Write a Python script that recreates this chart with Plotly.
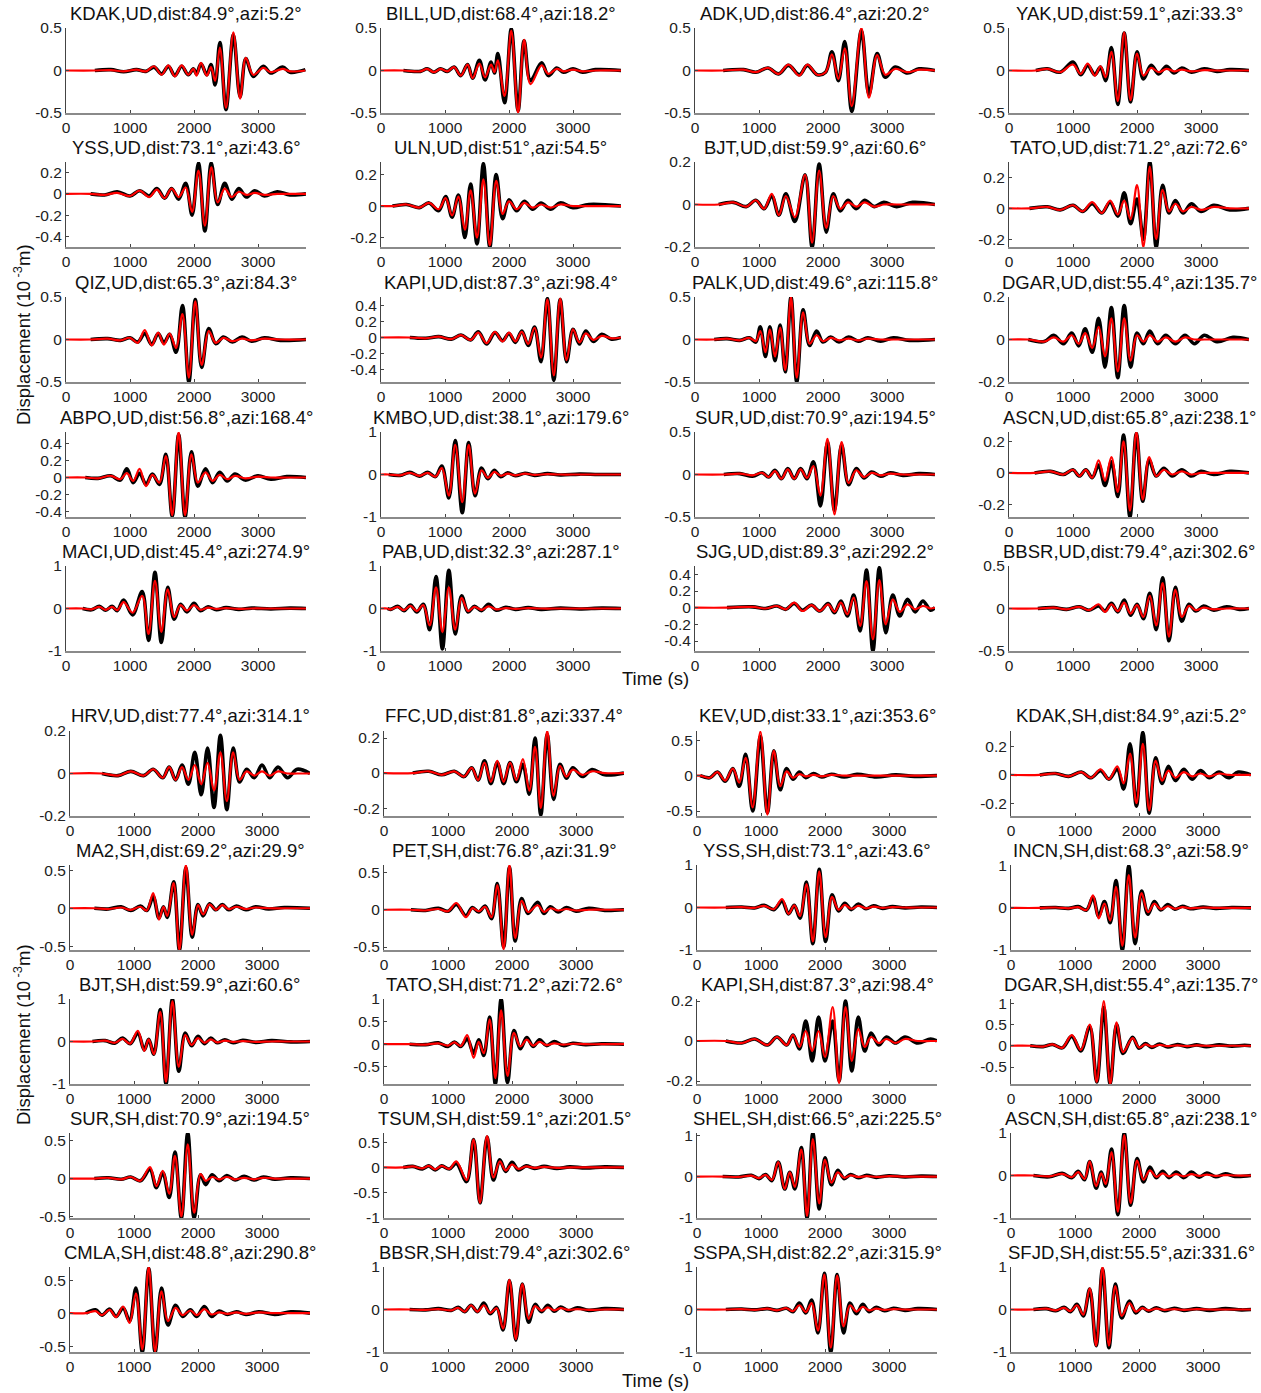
import plotly.graph_objects as go

# ---------------- data (extrema; obs = black, syn = red) ----------------
t_KDAK_UD = [0,450,700,900,1100,1250,1375,1495,1600,1700,1807,1911,1990,2040,2110,2200,2265,2330,2405,2500,2615,2720,2810,2925,3083,3200,3385,3500,3740]
obs_KDAK_UD = [None,0,0.01,-0.015,0.01,-0.01,0.04,-0.04,0.05,-0.06,0.05,-0.05,0.02,-0.04,0.08,-0.05,0.07,-0.17,0.33,-0.46,0.42,-0.31,0.14,-0.07,0.05,-0.03,0.04,-0.02,0.01]
syn_KDAK_UD = [0,0,0.005,-0.01,0.01,-0.01,0.05,-0.05,0.06,-0.07,0.06,-0.05,0.02,-0.06,0.09,-0.06,0.04,-0.12,0.27,-0.44,0.45,-0.33,0.15,-0.05,0.03,-0.02,0.02,-0.01,0.0]

t_BILL_UD = [0,350,615,720,826,930,1036,1142,1247,1352,1431,1537,1626,1720,1773,1826,1931,2036,2142,2236,2336,2510,2615,2747,2850,3000,3150,3350,3760]
obs_BILL_UD = [None,0,-0.01,0.02,-0.02,0.02,-0.01,0.04,-0.06,0.07,-0.09,0.12,-0.11,0.1,-0.03,0.2,-0.38,0.49,-0.47,0.35,-0.12,0.09,-0.06,0.03,-0.02,0.02,-0.02,0.01,0]
syn_BILL_UD = [0,0,-0.01,0.02,-0.02,0.02,-0.01,0.04,-0.06,0.07,-0.09,0.08,-0.08,0.07,-0.02,0.12,-0.3,0.47,-0.5,0.36,-0.16,0.06,-0.04,0.02,-0.01,0.01,-0.01,0.0,0]

t_ADK_UD = [0,440,760,950,1140,1307,1460,1630,1756,1910,2040,2140,2240,2340,2450,2600,2718,2846,2974,3128,3320,3500,3750]
obs_ADK_UD = [None,0,0.01,-0.02,0.03,-0.04,0.06,-0.05,0.06,-0.05,-0.02,0.22,-0.12,0.34,-0.48,0.47,-0.28,0.2,-0.08,0.04,-0.03,0.02,0]
syn_ADK_UD = [0,0,0.01,-0.02,0.03,-0.04,0.07,-0.06,0.07,-0.05,-0.02,0.19,-0.1,0.26,-0.42,0.5,-0.32,0.18,-0.05,0.02,-0.02,0.01,0]

t_YAK_UD = [0,420,600,800,1000,1120,1230,1340,1430,1510,1600,1700,1800,1900,2000,2100,2220,2340,2460,2580,2700,2850,3050,3250,3450,3750]
obs_YAK_UD = [None,0,0.02,-0.02,0.1,-0.05,0.06,-0.05,0.04,-0.12,0.27,-0.4,0.44,-0.37,0.22,-0.1,0.06,-0.04,0.05,-0.03,0.03,-0.02,0.02,-0.01,0.01,0]
syn_YAK_UD = [0,0,0.02,-0.02,0.07,-0.04,0.08,-0.06,0.05,-0.08,0.22,-0.36,0.45,-0.35,0.2,-0.06,0.03,-0.02,0.02,-0.01,0.01,-0.01,0.005,0,0,0]

t_YSS_UD = [0,385,600,800,1000,1150,1300,1420,1540,1650,1760,1870,1970,2070,2170,2270,2370,2480,2590,2700,2820,2950,3100,3300,3500,3750]
obs_YSS_UD = [None,0,-0.01,0.02,-0.02,0.03,-0.02,0.05,-0.04,0.05,-0.05,0.1,-0.2,0.29,-0.35,0.29,-0.1,0.1,-0.05,0.05,-0.03,0.03,-0.02,0.02,-0.01,0]
syn_YSS_UD = [0,0,-0.01,0.01,-0.02,0.03,-0.03,0.04,-0.04,0.05,-0.03,0.06,-0.17,0.22,-0.3,0.25,-0.08,0.05,-0.03,0.02,-0.01,0.01,-0.01,0.0,0,0]

t_ULN_UD = [0,180,400,600,750,900,1010,1110,1210,1310,1400,1500,1600,1700,1800,1900,2000,2120,2240,2370,2500,2650,2800,3000,3250,3750]
obs_ULN_UD = [None,0,0.01,-0.01,0.02,-0.03,0.06,-0.07,0.07,-0.2,0.14,-0.24,0.27,-0.26,0.2,-0.08,0.04,-0.03,0.03,-0.02,0.02,-0.02,0.02,-0.01,0.01,0]
syn_ULN_UD = [0,0,0.01,-0.01,0.02,-0.02,0.05,-0.06,0.06,-0.15,0.1,-0.2,0.17,-0.25,0.16,-0.05,0.03,-0.02,0.02,-0.01,0.01,-0.01,0.01,0,0,0]

t_BJT_UD = [0,370,600,800,950,1080,1200,1310,1420,1560,1720,1830,1940,2050,2160,2270,2390,2520,2650,2800,2950,3150,3400,3750]
obs_BJT_UD = [None,0,0.01,-0.01,0.02,-0.02,0.04,-0.05,0.05,-0.08,0.14,-0.2,0.19,-0.13,0.05,-0.03,0.02,-0.02,0.02,-0.01,0.01,-0.01,0.01,0]
syn_BJT_UD = [0,0,0.01,-0.01,0.02,-0.02,0.05,-0.05,0.04,-0.06,0.14,-0.18,0.16,-0.11,0.04,-0.02,0.01,-0.01,0.01,-0.01,0.0,0,0,0]

t_TATO_UD = [0,320,600,800,1000,1150,1300,1450,1580,1700,1800,1900,2000,2100,2200,2300,2400,2500,2600,2720,2850,3000,3200,3450,3750]
obs_TATO_UD = [None,0,0.01,-0.01,0.02,-0.02,0.03,-0.03,0.04,-0.05,0.1,-0.1,0.06,-0.2,0.3,-0.25,0.15,-0.03,0.05,-0.03,0.03,-0.02,0.02,-0.01,0]
syn_TATO_UD = [0,0,0.01,-0.01,0.02,-0.02,0.04,-0.03,0.05,-0.04,0.05,-0.07,0.15,-0.25,0.27,-0.2,0.12,-0.02,0.03,-0.02,0.01,-0.01,0.01,0,0]

t_QIZ_UD = [0,385,650,850,1000,1120,1230,1340,1440,1530,1620,1720,1820,1920,2020,2120,2230,2340,2460,2600,2750,2900,3100,3350,3750]
obs_QIZ_UD = [None,0,0.01,-0.01,0.02,-0.03,0.07,-0.06,0.07,-0.04,0.06,-0.15,0.4,-0.5,0.47,-0.33,0.13,-0.05,0.03,-0.03,0.03,-0.02,0.02,-0.01,0]
syn_QIZ_UD = [0,0,0.01,-0.01,0.02,-0.04,0.11,-0.07,0.08,-0.06,0.07,-0.1,0.3,-0.45,0.45,-0.3,0.1,-0.04,0.02,-0.02,0.01,-0.01,0.01,0,0]

t_KAPI_UD = [0,450,700,900,1100,1250,1400,1520,1650,1780,1900,2000,2100,2200,2300,2400,2500,2600,2700,2800,2900,3000,3100,3200,3320,3450,3600,3750]
obs_KAPI_UD = [None,0,-0.01,0.01,-0.02,0.03,-0.03,0.07,-0.08,0.06,-0.04,0.05,-0.06,0.08,-0.1,0.13,-0.3,0.48,-0.53,0.47,-0.3,0.1,-0.08,0.08,-0.05,0.04,-0.02,0]
syn_KAPI_UD = [0,0,-0.01,0.01,-0.02,0.03,-0.03,0.06,-0.07,0.07,-0.05,0.06,-0.05,0.07,-0.08,0.12,-0.25,0.47,-0.47,0.48,-0.28,0.1,-0.06,0.05,-0.03,0.02,-0.01,0]

t_PALK_UD = [0,300,500,700,850,950,1020,1100,1170,1250,1330,1410,1500,1590,1690,1790,1900,2000,2120,2250,2400,2550,2700,2900,3100,3350,3750]
obs_PALK_UD = [None,0,0.01,-0.01,0.02,-0.03,0.15,-0.2,0.15,-0.25,0.17,-0.38,0.5,-0.5,0.35,-0.07,0.1,-0.03,0.03,-0.03,0.03,-0.02,0.02,-0.02,0.02,-0.01,0]
syn_PALK_UD = [0,0,0.01,-0.01,0.02,-0.02,0.1,-0.15,0.12,-0.2,0.14,-0.36,0.5,-0.45,0.32,-0.05,0.05,-0.02,0.02,-0.01,0.01,-0.01,0.01,0,0,0,0]

t_DGAR_UD = [0,300,550,700,850,980,1090,1190,1300,1400,1500,1600,1700,1800,1900,2000,2100,2200,2320,2450,2600,2750,2900,3050,3250,3500,3750]
obs_DGAR_UD = [None,0,-0.01,0.02,-0.02,0.03,-0.03,0.05,-0.06,0.1,-0.13,0.15,-0.18,0.16,-0.13,0.03,-0.02,0.04,-0.02,0.02,-0.02,0.02,-0.02,0.02,-0.01,0.01,0]
syn_DGAR_UD = [0,0,-0.01,0.01,-0.01,0.02,-0.02,0.03,-0.04,0.06,-0.08,0.1,-0.15,0.1,-0.1,0.02,-0.01,0.02,-0.01,0.01,-0.01,0.01,0,0,0,0,0]

t_ABPO_UD = [0,300,500,700,850,950,1050,1150,1250,1350,1460,1560,1660,1760,1860,1960,2060,2180,2290,2400,2520,2640,2800,3000,3200,3450,3750]
obs_ABPO_UD = [None,0,-0.01,0.02,-0.03,0.1,-0.06,0.05,-0.08,0.04,-0.08,0.27,-0.45,0.5,-0.46,0.3,-0.1,0.1,-0.06,0.06,-0.04,0.04,-0.03,0.02,-0.02,0.01,0]
syn_ABPO_UD = [0,0,-0.01,0.02,-0.02,0.05,-0.04,0.1,-0.1,0.03,-0.06,0.25,-0.44,0.53,-0.44,0.27,-0.06,0.06,-0.04,0.03,-0.02,0.02,-0.01,0.01,0,0,0]

t_KMBO_UD = [0,120,300,450,600,730,850,950,1060,1160,1270,1370,1470,1570,1670,1770,1870,1980,2100,2250,2400,2600,2800,3100,3400,3750]
obs_KMBO_UD = [None,0,-0.02,0.05,-0.04,0.05,-0.05,0.2,-0.55,0.8,-0.9,0.75,-0.5,0.15,-0.1,0.1,-0.05,0.04,-0.03,0.03,-0.02,0.02,-0.01,0.01,0.0,0]
syn_KMBO_UD = [0,0,-0.02,0.04,-0.03,0.04,-0.05,0.15,-0.5,0.7,-0.65,0.7,-0.45,0.1,-0.08,0.06,-0.03,0.02,-0.02,0.02,-0.01,0.01,0,0,0,0]

t_SUR_UD = [0,450,700,900,1050,1150,1250,1350,1450,1550,1650,1750,1850,1960,2070,2180,2290,2400,2520,2640,2760,2900,3050,3250,3500,3750]
obs_SUR_UD = [None,0,0.01,-0.02,0.02,-0.03,0.05,-0.05,0.07,-0.05,0.07,-0.05,0.15,-0.37,0.38,-0.42,0.35,-0.12,0.07,-0.04,0.03,-0.02,0.02,-0.01,0.01,0]
syn_SUR_UD = [0,0,0.01,-0.01,0.02,-0.03,0.04,-0.05,0.06,-0.05,0.06,-0.04,0.1,-0.25,0.42,-0.47,0.38,-0.1,0.05,-0.03,0.02,-0.01,0.01,0,0,0]

t_ASCN_UD = [0,400,650,850,1000,1100,1200,1300,1400,1500,1600,1700,1790,1890,1990,2090,2190,2300,2420,2550,2700,2850,3000,3200,3450,3750]
obs_ASCN_UD = [None,0,0.01,-0.01,0.02,-0.02,0.02,-0.03,0.05,-0.08,0.07,-0.15,0.24,-0.28,0.25,-0.18,0.08,-0.02,0.03,-0.02,0.02,-0.02,0.01,-0.01,0.01,0]
syn_ASCN_UD = [0,0,0.01,-0.01,0.02,-0.02,0.02,-0.03,0.08,-0.05,0.1,-0.12,0.2,-0.24,0.26,-0.17,0.1,-0.02,0.02,-0.01,0.01,-0.01,0,0,0,0]

t_MACI_UD = [0,260,400,520,620,720,800,900,1040,1190,1290,1390,1490,1590,1690,1790,1890,2000,2100,2220,2350,2500,2700,2900,3200,3500,3750]
obs_MACI_UD = [None,0,-0.03,0.05,-0.04,0.05,-0.05,0.2,-0.15,0.4,-0.75,0.85,-0.8,0.5,-0.25,0.1,-0.08,0.12,-0.05,0.04,-0.03,0.02,-0.02,0.01,-0.01,0.01,0]
syn_MACI_UD = [0,0,-0.02,0.04,-0.03,0.04,-0.04,0.15,-0.1,0.3,-0.6,0.65,-0.55,0.45,-0.2,0.08,-0.05,0.08,-0.03,0.02,-0.01,0.01,-0.01,0,0,0,0]

t_PAB_UD = [0,100,150,260,360,460,560,660,760,860,960,1060,1160,1260,1360,1460,1570,1680,1800,1950,2100,2300,2500,2800,3100,3450,3750]
obs_PAB_UD = [None,0,-0.02,0.05,-0.05,0.08,-0.08,0.1,-0.5,0.75,-0.95,0.9,-0.6,0.3,-0.08,0.05,-0.05,0.1,-0.04,0.03,-0.02,0.02,-0.02,0.01,-0.01,0.01,0]
syn_PAB_UD = [0,0,-0.02,0.04,-0.04,0.06,-0.06,0.08,-0.4,0.5,-0.55,0.5,-0.5,0.25,-0.06,0.04,-0.03,0.05,-0.02,0.01,-0.01,0.01,0,0,0,0,0]

t_SJG_UD = [0,500,900,1100,1280,1420,1550,1680,1820,1950,2080,2180,2280,2380,2480,2580,2680,2780,2880,2980,3090,3200,3320,3440,3560,3680,3750]
obs_SJG_UD = [None,0,0.01,-0.01,0.02,-0.02,0.05,-0.03,0.03,-0.04,0.05,-0.06,0.08,-0.1,0.15,-0.28,0.45,-0.52,0.48,-0.3,0.15,-0.1,0.1,-0.05,0.08,-0.03,0]
syn_SJG_UD = [0,0,0.01,-0.01,0.02,-0.02,0.06,-0.04,0.03,-0.04,0.04,-0.05,0.06,-0.08,0.12,-0.22,0.32,-0.38,0.33,-0.2,0.1,-0.05,0.04,-0.02,0.02,-0.01,0]

t_BBSR_UD = [0,450,700,900,1100,1250,1400,1500,1600,1700,1800,1900,2000,2100,2200,2300,2400,2500,2600,2700,2810,2920,3040,3200,3400,3600,3750]
obs_BBSR_UD = [None,0,0.01,-0.01,0.02,-0.02,0.03,-0.03,0.06,-0.04,0.1,-0.08,0.05,-0.12,0.18,-0.25,0.36,-0.38,0.25,-0.15,0.05,-0.03,0.03,-0.02,0.02,-0.01,0]
syn_BBSR_UD = [0,0,0.01,-0.01,0.02,-0.02,0.05,-0.04,0.05,-0.03,0.07,-0.06,0.04,-0.1,0.15,-0.2,0.3,-0.33,0.22,-0.1,0.03,-0.02,0.01,-0.01,0,0,0]

t_HRV_UD = [0,500,750,950,1150,1300,1450,1550,1650,1750,1850,1950,2050,2150,2250,2350,2450,2550,2650,2760,2880,3000,3120,3250,3400,3550,3750]
obs_HRV_UD = [None,0,-0.01,0.01,-0.01,0.02,-0.02,0.03,-0.03,0.04,-0.05,0.1,-0.1,0.12,-0.16,0.18,-0.17,0.12,-0.04,0.02,-0.02,0.04,-0.02,0.03,-0.02,0.02,0]
syn_HRV_UD = [0,0,-0.01,0.01,-0.01,0.02,-0.02,0.03,-0.03,0.03,-0.03,0.04,-0.05,0.05,-0.08,0.1,-0.13,0.1,-0.03,0.01,-0.01,0.01,-0.01,0.01,0,0,0]

t_FFC_UD = [0,450,700,900,1100,1250,1370,1470,1570,1670,1770,1870,1970,2070,2170,2270,2360,2450,2550,2650,2750,2850,2950,3100,3250,3450,3750]
obs_FFC_UD = [None,0,0.01,-0.01,0.01,-0.02,0.03,-0.04,0.07,-0.06,0.06,-0.06,0.06,-0.05,0.05,-0.12,0.2,-0.24,0.22,-0.15,0.05,-0.03,0.03,-0.02,0.02,-0.01,0]
syn_FFC_UD = [0,0,0.01,-0.01,0.01,-0.02,0.03,-0.04,0.06,-0.05,0.07,-0.05,0.06,-0.04,0.08,-0.1,0.15,-0.2,0.24,-0.13,0.04,-0.02,0.02,-0.01,0.01,0,0]

t_KEV_UD = [0,50,200,320,440,560,660,760,870,990,1100,1200,1300,1400,1500,1600,1700,1820,1950,2100,2300,2500,2800,3100,3400,3750]
obs_KEV_UD = [None,0,-0.03,0.05,-0.08,0.1,-0.15,0.3,-0.5,0.55,-0.52,0.35,-0.2,0.1,-0.05,0.05,-0.03,0.03,-0.02,0.02,-0.02,0.02,-0.02,0.01,-0.01,0]
syn_KEV_UD = [0,0,-0.03,0.05,-0.07,0.1,-0.1,0.25,-0.45,0.62,-0.55,0.35,-0.15,0.06,-0.03,0.02,-0.01,0.01,-0.01,0.01,0,0,0,0,0,0]

t_KDAK_SH = [0,450,700,900,1100,1250,1400,1530,1660,1760,1860,1960,2060,2160,2260,2360,2460,2570,2700,2830,2960,3100,3250,3400,3550,3750]
obs_KDAK_SH = [None,0,0.01,-0.01,0.02,-0.02,0.03,-0.03,0.04,-0.1,0.22,-0.22,0.3,-0.27,0.12,-0.06,0.06,-0.04,0.04,-0.03,0.03,-0.02,0.02,-0.02,0.02,0]
syn_KDAK_SH = [0,0,0.01,-0.01,0.02,-0.02,0.04,-0.03,0.06,-0.06,0.15,-0.2,0.22,-0.25,0.1,-0.04,0.03,-0.02,0.02,-0.01,0.01,-0.01,0.01,0,0,0]

t_MA2_SH = [0,380,600,800,950,1100,1200,1300,1390,1460,1520,1620,1710,1810,1910,2000,2080,2180,2280,2380,2480,2600,2750,2900,3100,3350,3750]
obs_MA2_SH = [None,0,-0.01,0.02,-0.03,0.03,-0.03,0.15,-0.13,0.02,-0.12,0.35,-0.55,0.53,-0.38,0.05,-0.1,0.06,-0.02,0.05,-0.02,0.03,-0.02,0.02,-0.01,0.01,0]
syn_MA2_SH = [0,0,-0.01,0.01,-0.02,0.02,-0.03,0.2,-0.15,0.02,-0.1,0.33,-0.55,0.57,-0.35,0.04,-0.08,0.05,-0.02,0.04,-0.01,0.02,-0.01,0.01,0,0,0]

t_PET_SH = [0,420,650,850,1000,1130,1280,1380,1480,1580,1680,1770,1870,1960,2050,2150,2250,2400,2500,2600,2720,2850,3000,3200,3450,3750]
obs_PET_SH = [None,0,-0.01,0.02,-0.02,0.07,-0.08,0.03,-0.03,0.05,-0.12,0.35,-0.5,0.57,-0.42,0.15,-0.05,0.1,-0.05,0.04,-0.03,0.03,-0.02,0.02,-0.01,0]
syn_PET_SH = [0,0,-0.01,0.01,-0.02,0.09,-0.1,0.02,-0.02,0.04,-0.1,0.33,-0.53,0.6,-0.38,0.12,-0.03,0.06,-0.03,0.02,-0.01,0.01,-0.01,0,0,0]

t_YSS_SH = [0,450,700,900,1050,1200,1330,1430,1520,1610,1710,1810,1910,2010,2110,2210,2310,2410,2520,2640,2760,2900,3050,3250,3500,3750]
obs_YSS_SH = [None,0,0.01,-0.01,0.05,-0.05,0.15,-0.15,0.05,-0.25,0.6,-0.85,0.9,-0.8,0.3,-0.08,0.1,-0.05,0.08,-0.03,0.04,-0.02,0.02,-0.01,0.01,0]
syn_YSS_SH = [0,0,0.01,-0.01,0.04,-0.04,0.2,-0.15,0.05,-0.2,0.55,-0.8,0.85,-0.7,0.25,-0.05,0.06,-0.03,0.04,-0.02,0.02,-0.01,0.01,0,0,0]

t_INCN_SH = [0,450,700,900,1050,1180,1280,1370,1460,1550,1640,1740,1840,1940,2040,2140,2240,2340,2450,2560,2680,2800,3000,3200,3450,3750]
obs_INCN_SH = [None,0,0.01,-0.01,0.03,-0.05,0.25,-0.2,0.15,-0.35,0.65,-1.0,1.0,-0.85,0.4,-0.15,0.15,-0.05,0.08,-0.03,0.04,-0.02,0.02,-0.01,0.01,0]
syn_INCN_SH = [0,0,0.01,-0.01,0.02,-0.05,0.3,-0.25,0.1,-0.3,0.5,-0.9,0.78,-0.7,0.35,-0.1,0.1,-0.03,0.04,-0.02,0.02,-0.01,0.01,0,0,0]

t_BJT_SH = [0,350,550,700,820,940,1060,1160,1230,1310,1410,1500,1600,1700,1800,1900,2000,2100,2200,2300,2420,2550,2700,2900,3150,3450,3750]
obs_BJT_SH = [None,0,0.02,-0.04,0.08,-0.05,0.2,-0.2,0.05,-0.3,0.75,-1.0,1.0,-0.7,0.2,-0.1,0.12,-0.05,0.08,-0.03,0.04,-0.03,0.03,-0.02,0.02,-0.01,0]
syn_BJT_SH = [0,0,0.02,-0.03,0.06,-0.05,0.25,-0.22,0.05,-0.3,0.7,-0.95,0.95,-0.6,0.15,-0.08,0.08,-0.03,0.05,-0.02,0.02,-0.01,0.01,-0.01,0,0,0]

t_TATO_SH = [0,400,650,850,1000,1100,1200,1300,1400,1480,1560,1650,1740,1830,1930,2030,2130,2230,2330,2430,2540,2660,2800,2950,3150,3400,3750]
obs_TATO_SH = [None,0,-0.01,0.03,-0.05,0.05,-0.05,0.12,-0.2,0.1,-0.25,0.6,-0.88,1.0,-0.85,0.3,-0.1,0.15,-0.05,0.1,-0.03,0.06,-0.03,0.02,-0.01,0.01,0]
syn_TATO_SH = [0,0,-0.01,0.02,-0.03,0.04,-0.04,0.2,-0.3,0.05,-0.2,0.55,-0.75,0.75,-0.7,0.25,-0.05,0.1,-0.03,0.05,-0.02,0.02,-0.01,0.01,0,0,0]

t_KAPI_SH = [0,450,700,900,1100,1250,1400,1500,1600,1700,1800,1900,2000,2120,2220,2320,2420,2520,2620,2720,2840,2960,3100,3250,3450,3650,3750]
obs_KAPI_SH = [None,0,-0.01,0.01,-0.02,0.02,-0.02,0.03,-0.04,0.1,-0.1,0.12,-0.1,0.1,-0.2,0.2,-0.15,0.12,-0.05,0.04,-0.02,0.02,-0.01,0.02,-0.01,0.01,0]
syn_KAPI_SH = [0,0,-0.01,0.01,-0.02,0.02,-0.02,0.03,-0.03,0.05,-0.05,0.05,-0.08,0.17,-0.21,0.17,-0.1,0.06,-0.03,0.02,-0.01,0.01,-0.01,0.01,0,0,0]

t_DGAR_SH = [0,300,500,650,800,950,1090,1230,1340,1450,1550,1650,1750,1900,2000,2100,2200,2320,2450,2600,2750,2900,3050,3250,3450,3650,3750]
obs_DGAR_SH = [None,0,-0.02,0.03,-0.05,0.22,-0.12,0.45,-0.85,0.9,-0.9,0.5,-0.18,0.2,-0.06,0.05,-0.04,0.04,-0.03,0.03,-0.02,0.02,-0.02,0.02,-0.01,0.01,0]
syn_DGAR_SH = [0,0,-0.02,0.03,-0.05,0.25,-0.1,0.5,-0.85,1.05,-0.9,0.55,-0.15,0.18,-0.04,0.03,-0.02,0.02,-0.01,0.01,-0.01,0.01,0,0,0,0,0]

t_SUR_SH = [0,380,600,800,950,1100,1250,1350,1450,1550,1640,1740,1840,1940,2040,2120,2220,2330,2450,2580,2720,2870,3020,3200,3450,3750]
obs_SUR_SH = [None,0,0.01,-0.01,0.02,-0.03,0.12,-0.12,0.08,-0.25,0.35,-0.52,0.6,-0.52,0.05,-0.08,0.05,-0.03,0.04,-0.02,0.03,-0.02,0.02,-0.01,0.01,0]
syn_SUR_SH = [0,0,0.01,-0.01,0.02,-0.03,0.15,-0.1,0.1,-0.2,0.3,-0.5,0.45,-0.45,0.06,-0.03,0.02,-0.01,0.02,-0.01,0.01,-0.01,0.01,0,0,0]

t_TSUM_SH = [0,300,450,600,700,800,900,1020,1130,1290,1400,1500,1610,1710,1810,1900,2000,2100,2220,2350,2500,2700,2900,3150,3450,3750]
obs_TSUM_SH = [None,0,0.02,-0.03,0.03,-0.05,0.03,-0.03,0.08,-0.28,0.55,-0.7,0.6,-0.25,0.15,-0.08,0.1,-0.05,0.03,-0.02,0.02,-0.02,0.01,-0.01,0.01,0]
syn_TSUM_SH = [0,0,0.02,-0.02,0.03,-0.04,0.03,-0.03,0.12,-0.25,0.55,-0.7,0.62,-0.2,0.12,-0.06,0.06,-0.03,0.02,-0.01,0.01,-0.01,0,0,0,0]

t_SHEL_SH = [0,400,650,850,970,1070,1170,1270,1370,1450,1530,1630,1720,1810,1910,2000,2100,2200,2300,2400,2520,2650,2800,3000,3250,3500,3750]
obs_SHEL_SH = [None,0,-0.01,0.03,-0.05,0.05,-0.1,0.35,-0.3,0.1,-0.3,0.7,-1.0,1.05,-0.78,0.45,-0.2,0.15,-0.05,0.05,-0.03,0.03,-0.02,0.02,-0.01,0.01,0]
syn_SHEL_SH = [0,0,-0.01,0.02,-0.04,0.04,-0.08,0.35,-0.3,0.1,-0.25,0.65,-0.95,0.9,-0.65,0.4,-0.15,0.1,-0.03,0.03,-0.01,0.01,-0.01,0.01,0,0,0]

t_ASCN_SH = [0,350,600,800,950,1050,1150,1230,1330,1410,1480,1570,1670,1770,1870,1970,2070,2170,2270,2370,2470,2580,2700,2820,2940,3060,3200,3350,3500,3750]
obs_ASCN_SH = [None,0,-0.03,0.05,-0.05,0.1,-0.1,0.33,-0.3,0.08,-0.25,0.62,-0.92,1.0,-0.7,0.4,-0.15,0.2,-0.05,0.1,-0.05,0.08,-0.05,0.08,-0.04,0.06,-0.03,0.04,-0.02,0]
syn_ASCN_SH = [0,0,-0.02,0.04,-0.04,0.08,-0.08,0.33,-0.25,0.05,-0.2,0.55,-0.85,0.95,-0.65,0.35,-0.1,0.12,-0.03,0.05,-0.02,0.03,-0.02,0.03,-0.01,0.02,-0.01,0.01,0,0]

t_CMLA_SH = [0,250,400,500,620,720,830,930,1030,1130,1230,1330,1430,1530,1650,1760,1880,1980,2100,2210,2330,2460,2600,2750,2950,3200,3450,3750]
obs_CMLA_SH = [None,0,0.05,-0.03,0.06,-0.05,0.08,-0.12,0.38,-0.59,0.68,-0.59,0.38,-0.18,0.12,-0.05,0.05,-0.05,0.1,-0.05,0.03,-0.02,0.02,-0.02,0.02,-0.02,0.02,0]
syn_CMLA_SH = [0,0,0.03,-0.03,0.05,-0.06,0.1,-0.15,0.3,-0.55,0.7,-0.58,0.33,-0.12,0.08,-0.03,0.04,-0.03,0.06,-0.02,0.01,-0.01,0.01,-0.01,0.01,0,0,0]

t_BBSR_SH = [0,400,650,850,1050,1160,1260,1360,1460,1560,1660,1760,1860,1960,2060,2160,2260,2360,2460,2560,2660,2760,2880,3020,3200,3450,3750]
obs_BBSR_SH = [None,0,-0.01,0.02,-0.02,0.05,-0.05,0.1,-0.05,0.15,-0.1,0.05,-0.48,0.68,-0.72,0.6,-0.3,0.12,-0.05,0.1,-0.04,0.06,-0.03,0.04,-0.02,0.02,0]
syn_BBSR_SH = [0,0,-0.01,0.01,-0.02,0.04,-0.05,0.1,-0.05,0.1,-0.08,0.03,-0.45,0.7,-0.7,0.6,-0.22,0.08,-0.03,0.05,-0.02,0.03,-0.01,0.01,-0.01,0,0]

t_SSPA_SH = [0,450,700,900,1100,1250,1400,1500,1600,1700,1790,1890,1990,2090,2190,2290,2390,2490,2590,2690,2800,2930,3070,3250,3450,3750]
obs_SSPA_SH = [None,0,0.01,-0.01,0.02,-0.02,0.03,-0.05,0.15,-0.08,0.22,-0.55,0.85,-1.0,0.82,-0.55,0.15,-0.1,0.12,-0.05,0.05,-0.03,0.03,-0.02,0.02,0]
syn_SSPA_SH = [0,0,0.01,-0.01,0.02,-0.02,0.03,-0.04,0.1,-0.06,0.15,-0.5,0.82,-0.9,0.8,-0.4,0.1,-0.05,0.06,-0.02,0.02,-0.01,0.01,0,0,0]

t_SFJD_SH = [0,350,550,700,830,930,1030,1130,1230,1330,1430,1530,1630,1730,1850,1950,2050,2150,2270,2400,2550,2700,2900,3100,3350,3600,3750]
obs_SFJD_SH = [None,0,0.02,-0.03,0.05,-0.05,0.12,-0.15,0.48,-0.85,0.95,-0.9,0.6,-0.2,0.2,-0.08,0.05,-0.04,0.04,-0.03,0.03,-0.02,0.02,-0.02,0.02,-0.01,0]
syn_SFJD_SH = [0,0,0.02,-0.02,0.04,-0.04,0.1,-0.12,0.5,-0.85,1.0,-0.85,0.55,-0.15,0.15,-0.05,0.03,-0.02,0.02,-0.01,0.01,-0.01,0.01,0,0,0,0]

titles = [
    "KDAK,UD,dist:84.9°,azi:5.2°", "BILL,UD,dist:68.4°,azi:18.2°", "ADK,UD,dist:86.4°,azi:20.2°", "YAK,UD,dist:59.1°,azi:33.3°",
    "YSS,UD,dist:73.1°,azi:43.6°", "ULN,UD,dist:51°,azi:54.5°", "BJT,UD,dist:59.9°,azi:60.6°", "TATO,UD,dist:71.2°,azi:72.6°",
    "QIZ,UD,dist:65.3°,azi:84.3°", "KAPI,UD,dist:87.3°,azi:98.4°", "PALK,UD,dist:49.6°,azi:115.8°", "DGAR,UD,dist:55.4°,azi:135.7°",
    "ABPO,UD,dist:56.8°,azi:168.4°", "KMBO,UD,dist:38.1°,azi:179.6°", "SUR,UD,dist:70.9°,azi:194.5°", "ASCN,UD,dist:65.8°,azi:238.1°",
    "MACI,UD,dist:45.4°,azi:274.9°", "PAB,UD,dist:32.3°,azi:287.1°", "SJG,UD,dist:89.3°,azi:292.2°", "BBSR,UD,dist:79.4°,azi:302.6°",
    "HRV,UD,dist:77.4°,azi:314.1°", "FFC,UD,dist:81.8°,azi:337.4°", "KEV,UD,dist:33.1°,azi:353.6°", "KDAK,SH,dist:84.9°,azi:5.2°",
    "MA2,SH,dist:69.2°,azi:29.9°", "PET,SH,dist:76.8°,azi:31.9°", "YSS,SH,dist:73.1°,azi:43.6°", "INCN,SH,dist:68.3°,azi:58.9°",
    "BJT,SH,dist:59.9°,azi:60.6°", "TATO,SH,dist:71.2°,azi:72.6°", "KAPI,SH,dist:87.3°,azi:98.4°", "DGAR,SH,dist:55.4°,azi:135.7°",
    "SUR,SH,dist:70.9°,azi:194.5°", "TSUM,SH,dist:59.1°,azi:201.5°", "SHEL,SH,dist:66.5°,azi:225.5°", "ASCN,SH,dist:65.8°,azi:238.1°",
    "CMLA,SH,dist:48.8°,azi:290.8°", "BBSR,SH,dist:79.4°,azi:302.6°", "SSPA,SH,dist:82.2°,azi:315.9°", "SFJD,SH,dist:55.5°,azi:331.6°",
]

y_ranges = [
    [-0.5, 0.5], [-0.5, 0.5], [-0.5, 0.5], [-0.5, 0.5],
    [-0.5, 0.3], [-0.26, 0.28], [-0.2, 0.2], [-0.25, 0.3],
    [-0.5, 0.5], [-0.55, 0.5], [-0.5, 0.5], [-0.2, 0.2],
    [-0.46, 0.53], [-1, 1], [-0.5, 0.5], [-0.28, 0.26],
    [-1, 1], [-1, 1], [-0.52, 0.5], [-0.5, 0.5],
    [-0.2, 0.2], [-0.245, 0.24], [-0.57, 0.63], [-0.29, 0.31],
    [-0.55, 0.57], [-0.54, 0.6], [-1, 1], [-1, 1.02],
    [-1, 1], [-0.88, 1], [-0.215, 0.21], [-0.9, 1.1],
    [-0.52, 0.6], [-1, 0.68], [-1, 1.05], [-1, 1],
    [-0.59, 0.7], [-1, 1], [-1, 1], [-1, 1],
]

y_ticks = [
    [-0.5, 0, 0.5], [-0.5, 0, 0.5], [-0.5, 0, 0.5], [-0.5, 0, 0.5],
    [-0.4, -0.2, 0, 0.2], [-0.2, 0, 0.2], [-0.2, 0, 0.2], [-0.2, 0, 0.2],
    [-0.5, 0, 0.5], [-0.4, -0.2, 0, 0.2, 0.4], [-0.5, 0, 0.5], [-0.2, 0, 0.2],
    [-0.4, -0.2, 0, 0.2, 0.4], [-1, 0, 1], [-0.5, 0, 0.5], [-0.2, 0, 0.2],
    [-1, 0, 1], [-1, 0, 1], [-0.4, -0.2, 0, 0.2, 0.4], [-0.5, 0, 0.5],
    [-0.2, 0, 0.2], [-0.2, 0, 0.2], [-0.5, 0, 0.5], [-0.2, 0, 0.2],
    [-0.5, 0, 0.5], [-0.5, 0, 0.5], [-1, 0, 1], [-1, 0, 1],
    [-1, 0, 1], [-0.5, 0, 0.5, 1], [-0.2, 0, 0.2], [-0.5, 0, 0.5, 1],
    [-0.5, 0, 0.5], [-1, -0.5, 0, 0.5], [-1, 0, 1], [-1, 0, 1],
    [-0.5, 0, 0.5], [-1, 0, 1], [-1, 0, 1], [-1, 0, 1],
]

x_ticks = [0, 1000, 2000, 3000]
x_range = [0, 3750]

series = [
    (t_KDAK_UD, obs_KDAK_UD, syn_KDAK_UD), (t_BILL_UD, obs_BILL_UD, syn_BILL_UD), (t_ADK_UD, obs_ADK_UD, syn_ADK_UD), (t_YAK_UD, obs_YAK_UD, syn_YAK_UD),
    (t_YSS_UD, obs_YSS_UD, syn_YSS_UD), (t_ULN_UD, obs_ULN_UD, syn_ULN_UD), (t_BJT_UD, obs_BJT_UD, syn_BJT_UD), (t_TATO_UD, obs_TATO_UD, syn_TATO_UD),
    (t_QIZ_UD, obs_QIZ_UD, syn_QIZ_UD), (t_KAPI_UD, obs_KAPI_UD, syn_KAPI_UD), (t_PALK_UD, obs_PALK_UD, syn_PALK_UD), (t_DGAR_UD, obs_DGAR_UD, syn_DGAR_UD),
    (t_ABPO_UD, obs_ABPO_UD, syn_ABPO_UD), (t_KMBO_UD, obs_KMBO_UD, syn_KMBO_UD), (t_SUR_UD, obs_SUR_UD, syn_SUR_UD), (t_ASCN_UD, obs_ASCN_UD, syn_ASCN_UD),
    (t_MACI_UD, obs_MACI_UD, syn_MACI_UD), (t_PAB_UD, obs_PAB_UD, syn_PAB_UD), (t_SJG_UD, obs_SJG_UD, syn_SJG_UD), (t_BBSR_UD, obs_BBSR_UD, syn_BBSR_UD),
    (t_HRV_UD, obs_HRV_UD, syn_HRV_UD), (t_FFC_UD, obs_FFC_UD, syn_FFC_UD), (t_KEV_UD, obs_KEV_UD, syn_KEV_UD), (t_KDAK_SH, obs_KDAK_SH, syn_KDAK_SH),
    (t_MA2_SH, obs_MA2_SH, syn_MA2_SH), (t_PET_SH, obs_PET_SH, syn_PET_SH), (t_YSS_SH, obs_YSS_SH, syn_YSS_SH), (t_INCN_SH, obs_INCN_SH, syn_INCN_SH),
    (t_BJT_SH, obs_BJT_SH, syn_BJT_SH), (t_TATO_SH, obs_TATO_SH, syn_TATO_SH), (t_KAPI_SH, obs_KAPI_SH, syn_KAPI_SH), (t_DGAR_SH, obs_DGAR_SH, syn_DGAR_SH),
    (t_SUR_SH, obs_SUR_SH, syn_SUR_SH), (t_TSUM_SH, obs_TSUM_SH, syn_TSUM_SH), (t_SHEL_SH, obs_SHEL_SH, syn_SHEL_SH), (t_ASCN_SH, obs_ASCN_SH, syn_ASCN_SH),
    (t_CMLA_SH, obs_CMLA_SH, syn_CMLA_SH), (t_BBSR_SH, obs_BBSR_SH, syn_BBSR_SH), (t_SSPA_SH, obs_SSPA_SH, syn_SSPA_SH), (t_SFJD_SH, obs_SFJD_SH, syn_SFJD_SH),
]

# ---------------- layout (pixel geometry) ----------------
W, H = 1261, 1393
PW, PH = 240, 85
panel_cols = [[66, 381, 695, 1009], [70, 384, 697, 1011]]
panel_rows = [[28, 162, 297, 432, 566], [731, 865, 999, 1133, 1267]]
FONT = "Liberation Sans, Arial, sans-serif"
TICK_SIZE = 15.5
TITLE_SIZE = 18.5

fig = go.Figure()
annotations = []

for i, (t, obs, syn) in enumerate(series):
    panel, k = divmod(i, 20)
    r, c = divmod(k, 4)
    L = panel_cols[panel][c]
    T = panel_rows[panel][r]
    n = i + 1
    xa = "x" if n == 1 else f"x{n}"
    ya = "y" if n == 1 else f"y{n}"

    pairs = [(tt, v) for tt, v in zip(t, obs) if v is not None]
    fig.add_trace(go.Scatter(x=[p[0] for p in pairs], y=[p[1] for p in pairs], mode="lines",
                             xaxis=xa, yaxis=ya,
                             line=dict(color="black", width=3.6, shape="spline", smoothing=1.0),
                             showlegend=False, hoverinfo="skip"))
    m = min(len(t), len(syn))
    fig.add_trace(go.Scatter(x=t[:m], y=syn[:m], mode="lines", xaxis=xa, yaxis=ya,
                             line=dict(color="#ff0000", width=2.2, shape="spline", smoothing=1.0),
                             showlegend=False, hoverinfo="skip"))

    xkey = "xaxis" if n == 1 else f"xaxis{n}"
    ykey = "yaxis" if n == 1 else f"yaxis{n}"
    fig.layout[xkey] = dict(
        domain=[L / W, (L + PW) / W], anchor=ya, range=x_range, automargin=False,
        tickvals=x_ticks, ticktext=[str(v) for v in x_ticks],
        showline=True, linecolor="#8a8a8a", linewidth=1.5, mirror=False,
        ticks="inside", ticklen=3, tickcolor="#444", showgrid=False, zeroline=False,
        tickfont=dict(family=FONT, size=TICK_SIZE, color="#222"), fixedrange=True,
    )
    fig.layout[ykey] = dict(
        domain=[1 - (T + PH) / H, 1 - T / H], anchor=xa, range=y_ranges[i], automargin=False,
        tickvals=y_ticks[i], ticktext=[f"{v:g}" for v in y_ticks[i]],
        showline=True, linecolor="#444", linewidth=1, mirror=False,
        ticks="inside", ticklen=3, tickcolor="#444", showgrid=False, zeroline=False,
        tickfont=dict(family=FONT, size=TICK_SIZE, color="#222"), fixedrange=True,
    )
    annotations.append(dict(
        text=titles[i], x=(L + PW / 2) / W, y=1 - (T - 15) / H, xref="paper", yref="paper",
        xanchor="center", yanchor="middle", showarrow=False,
        font=dict(family=FONT, size=TITLE_SIZE, color="#111"),
    ))

for yc, ylab in [(678, 335), (1380, 1035)]:
    annotations.append(dict(text="Time (s)", x=655 / W, y=1 - yc / H, xref="paper", yref="paper",
                            xanchor="center", yanchor="middle", showarrow=False,
                            font=dict(family=FONT, size=TITLE_SIZE, color="#111")))
    annotations.append(dict(text="Displacement (10<sup> -3</sup>m)", x=22 / W, y=1 - ylab / H,
                            xref="paper", yref="paper", xanchor="center", yanchor="middle",
                            textangle=-90, showarrow=False,
                            font=dict(family=FONT, size=TITLE_SIZE, color="#111")))

fig.update_layout(
    template="none",
    width=W, height=H, autosize=False,
    margin=dict(l=0, r=0, t=0, b=0, pad=0),
    paper_bgcolor="white", plot_bgcolor="white",
    font=dict(family=FONT, color="#111"),
    showlegend=False,
    annotations=annotations,
)

# remove the browser's default 8px body margin so the figure sits at the page origin
fig.write_html("out.html", config={"displayModeBar": False},
               post_script="document.body.style.margin='0';document.body.style.overflow='hidden';")
